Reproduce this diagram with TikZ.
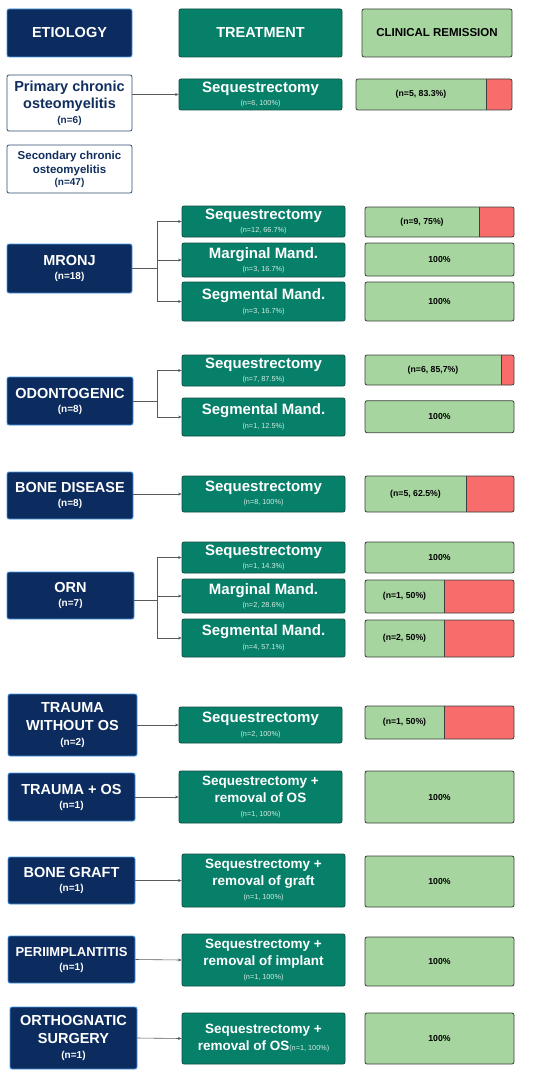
\documentclass[tikz,border=0pt]{standalone}
\usepackage{fontspec}
\setmainfont{Liberation Sans}
\usetikzlibrary{arrows.meta,calc}
\definecolor{navy}{HTML}{0C2B5E}
\definecolor{edgeblue}{HTML}{4A9BE8}
\definecolor{tealc}{HTML}{07806A}
\definecolor{tealdark}{HTML}{0E4F42}
\definecolor{greenc}{HTML}{A6D59F}
\definecolor{bargray}{HTML}{3C3F3C}
\definecolor{redc}{HTML}{F86C6C}
\definecolor{wborder}{HTML}{2E4C70}
\definecolor{navytext}{HTML}{112F5E}
\definecolor{subc}{HTML}{D3ECE2}
\definecolor{arrgray}{HTML}{5A5A5A}
\newcommand{\fsz}[2]{\fontsize{#1}{#2}\selectfont}
\newcommand{\subt}[1]{{\fsz{7.3}{8.5}\mdseries\color{subc}#1}}
\newcommand{\subn}[1]{{\fsz{10}{12}#1}}
\tikzset{
  sz/.style 2 args={minimum width=#1pt, minimum height=#2pt},
  etio/.style={draw=edgeblue, line width=0.8pt, fill=navy, text=white, rounded corners=2pt,
    font=\bfseries\fsz{14.5}{17}, align=center, inner sep=0pt},
  wbox/.style={draw=wborder, line width=0.8pt, fill=white, text=navytext, rounded corners=2pt,
    font=\bfseries, align=center, inner sep=0pt},
  treat/.style={draw=tealdark, line width=0.8pt, fill=tealc, text=white, rounded corners=2pt,
    font=\bfseries\fsz{15}{16}, align=center, inner sep=0pt},
  treatm/.style={treat, font=\bfseries\fsz{13.5}{17}},
  bar/.style={draw=bargray, line width=0.8pt, fill=greenc, rounded corners=2pt, inner sep=0pt},
  bartxt/.style={font=\bfseries\fsz{8.7}{10}, text=black, inner sep=0pt},
  redpart/.style={path picture={
      \fill[redc] ([xshift=-#1pt]path picture bounding box.north east) rectangle (path picture bounding box.south east);
      \draw[bargray,line width=0.8pt] ([xshift=-#1pt]path picture bounding box.north east) -- ([xshift=-#1pt]path picture bounding box.south east);}},
  arr/.style={draw=arrgray, line width=0.6pt, -{Stealth[length=3.5pt,width=3pt]}},
  conn/.style={draw=arrgray, line width=0.6pt}
}
\begin{document}
\begin{tikzpicture}[x=1pt,y=-1pt]
\useasboundingbox (0,0) rectangle (550,1078);
% headers
\node[etio, sz={125}{48}] (hE) at (69.5,33) {ETIOLOGY};
\node[treat, sz={163}{48}, font=\bfseries\fsz{14.5}{16}] (hT) at (260.5,33) {TREATMENT};
\node[bar, sz={150}{48}, font=\bfseries\fsz{11.5}{13}, align=center] (hC) at (437,33) {CLINICAL REMISSION};

% primary
\node[wbox, sz={125}{56}, font=\bfseries\fsz{14.5}{17.5}] (pco) at (69.5,103) {Primary chronic\\osteomyelitis\\[-3pt]\subn{(n=6)}};
\node[treat, sz={163}{31}] (t1) at (260.5,94.5) {Sequestrectomy\\[-3pt]\subt{(n=6, 100\%)}};
\node[bar, redpart=26, sz={156}{31}] (b1) at (434,94.5) {};
\node[bartxt] (b1t) at ([xshift=-13pt]b1.center) {(n=5, 83.3\%)};
\draw[arr] (pco.east |- t1.west) -- (t1.west);

% secondary
\node[wbox, sz={125}{48}, font=\bfseries\fsz{11.5}{14}] (sco) at (69.5,169) {Secondary chronic\\osteomyelitis\\[-2pt]\subn{(n=47)}};

% MRONJ
\node[etio, sz={125}{49}] (mronj) at (69.5,268.5) {MRONJ\\[-3pt]\subn{(n=18)}};
\node[treat, sz={163}{31}] (t2a) at (263.5,221.5) {Sequestrectomy\\[-3pt]\subt{(n=12, 66.7\%)}};
\node[treat, sz={163}{34}] (t2b) at (263.5,260) {Marginal Mand.\\[-3pt]\subt{(n=3, 16.7\%)}};
\node[treat, sz={163}{39}] (t2c) at (263.5,301.5) {Segmental Mand.\\[-2pt]\subt{(n=3, 16.7\%)}};
\node[bar, redpart=35, sz={149}{30}] (b2a) at (439.5,222) {};
\node[bartxt] (b2at) at ([xshift=-17.5pt]b2a.center) {(n=9, 75\%)};
\node[bar, sz={149}{33}] (b2b) at (439.5,259.5) {};
\node[bartxt] (b2bt) at (b2b.center) {100\%};
\node[bar, sz={149}{39}] (b2c) at (439.5,301.5) {};
\node[bartxt] (b2ct) at (b2c.center) {100\%};
\coordinate (jm) at (157,268.5);
\draw[conn] (mronj.east) -- (jm);
\draw[arr] (jm) |- (t2a.west);
\draw[arr] (jm) |- (t2c.west);
\draw[arr] (jm |- t2b.west) -- (t2b.west);

% ODONTOGENIC
\node[etio, sz={126}{48}] (odo) at (70,401) {ODONTOGENIC\\[-3pt]\subn{(n=8)}};
\node[treat, sz={163}{31}] (t3a) at (263.5,370.5) {Sequestrectomy\\[-3pt]\subt{(n=7, 87.5\%)}};
\node[treat, sz={163}{38}] (t3b) at (263.5,417) {Segmental Mand.\\[-2pt]\subt{(n=1, 12.5\%)}};
\node[bar, redpart=13, sz={149}{30}] (b3a) at (439.5,370) {};
\node[bartxt] (b3at) at ([xshift=-6.5pt]b3a.center) {(n=6, 85,7\%)};
\node[bar, sz={149}{32}] (b3b) at (439.5,416.7) {};
\node[bartxt] (b3bt) at (b3b.center) {100\%};
\coordinate (jo) at (157,401);
\draw[conn] (odo.east) -- (jo);
\draw[arr] (jo) |- (t3a.west);
\draw[arr] (jo) |- (t3b.west);

% BONE DISEASE
\node[etio, sz={126}{47}] (bd) at (70,495.5) {BONE DISEASE\\[-3pt]\subn{(n=8)}};
\node[treat, sz={163}{36}] (t4) at (263.5,494) {Sequestrectomy\\[-3pt]\subt{(n=8, 100\%)}};
\node[bar, redpart=48, sz={149}{36}] (b4) at (439.5,494) {};
\node[bartxt] (b4t) at ([xshift=-24pt]b4.center) {(n=5, 62.5\%)};
\draw[arr] (bd.east |- t4.west) -- (t4.west);

% ORN
\node[etio, sz={127}{47}] (orn) at (70.5,595.5) {ORN\\[-3pt]\subn{(n=7)}};
\node[treat, sz={163}{31}] (t5a) at (263.5,557.5) {Sequestrectomy\\[-3pt]\subt{(n=1, 14.3\%)}};
\node[treat, sz={163}{34}] (t5b) at (263.5,596) {Marginal Mand.\\[-3pt]\subt{(n=2, 28.6\%)}};
\node[treat, sz={163}{38}] (t5c) at (263.5,638) {Segmental Mand.\\[-2pt]\subt{(n=4, 57.1\%)}};
\node[bar, sz={149}{31}] (b5a) at (439.5,557.5) {};
\node[bartxt] (b5at) at (b5a.center) {100\%};
\node[bar, redpart=70, sz={149}{33}] (b5b) at (439.5,596.5) {};
\node[bartxt] (b5bt) at ([xshift=-35pt]b5b.center) {(n=1, 50\%)};
\node[bar, redpart=70, sz={149}{37}] (b5c) at (439.5,638.5) {};
\node[bartxt] (b5ct) at ([xshift=-35pt]b5c.center) {(n=2, 50\%)};
\coordinate (jr) at (157,600);
\draw[conn] (orn.east |- jr) -- (jr);
\draw[arr] (jr) |- (t5a.west);
\draw[arr] (jr) |- (t5c.west);
\draw[arr] (jr |- t5b.west) -- (t5b.west);

% TRAUMA WITHOUT OS
\node[etio, sz={129}{62}, font=\bfseries\fsz{14.5}{18}] (tw) at (72.5,725) {TRAUMA\\WITHOUT OS\\[-3pt]\subn{(n=2)}};
\node[treat, sz={163}{36}] (t6) at (260.5,725) {Sequestrectomy\\[-2pt]\subt{(n=2, 100\%)}};
\node[bar, redpart=70, sz={149}{33}] (b6) at (439.5,722.5) {};
\node[bartxt] (b6t) at ([xshift=-35pt]b6.center) {(n=1, 50\%)};
\draw[arr] (tw.east |- t6.west) -- (t6.west);

% TRAUMA + OS
\node[etio, sz={127}{48}] (tos) at (71.5,797) {TRAUMA + OS\\[-3pt]\subn{(n=1)}};
\node[treatm, sz={163}{52}] (t7) at (260.5,797) {Sequestrectomy +\\removal of OS\\[-3pt]\subt{(n=1, 100\%)}};
\node[bar, sz={149}{52}] (b7) at (439.5,797) {};
\node[bartxt] (b7t) at (b7.center) {100\%};
\draw[arr] (tos.east) -- (t7.west);

% BONE GRAFT
\node[etio, sz={127}{47}] (bg) at (71.5,880.5) {BONE GRAFT\\[-3pt]\subn{(n=1)}};
\node[treatm, sz={163}{53}] (t8) at (263.5,880.5) {Sequestrectomy +\\removal of graft\\[-3pt]\subt{(n=1, 100\%)}};
\node[bar, sz={149}{51}] (b8) at (439.5,881.5) {};
\node[bartxt] (b8t) at (b8.center) {100\%};
\draw[arr] (bg.east) -- (t8.west);

% PERIIMPLANTITIS
\node[etio, sz={127}{47}, font=\bfseries\fsz{13}{16}] (pi) at (71.5,959.5) {PERIIMPLANTITIS\\[-2pt]\subn{(n=1)}};
\node[treatm, sz={163}{52}] (t9) at (263.5,960) {Sequestrectomy +\\removal of implant\\[-3pt]\subt{(n=1, 100\%)}};
\node[bar, sz={149}{49}] (b9) at (439.5,961.5) {};
\node[bartxt] (b9t) at (b9.center) {100\%};
\draw[arr] (pi.east) -- (t9.west);

% ORTHOGNATIC SURGERY
\node[etio, sz={127}{62}, font=\bfseries\fsz{14.5}{18}] (og) at (73.5,1038) {ORTHOGNATIC\\SURGERY\\[-3pt]\subn{(n=1)}};
\node[treatm, sz={163}{51}] (t10) at (263.5,1038.5) {Sequestrectomy +\\removal of OS\subt{(n=1, 100\%)}};
\node[bar, sz={149}{51}] (b10) at (439.5,1038.5) {};
\node[bartxt] (b10t) at (b10.center) {100\%};
\draw[arr] (og.east) -- (t10.west);
\end{tikzpicture}
\end{document}
